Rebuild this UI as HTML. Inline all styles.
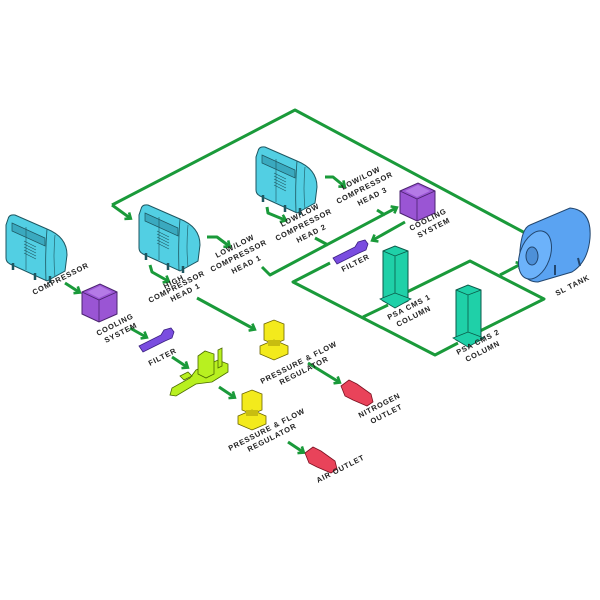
<!DOCTYPE html>
<html><head><meta charset="utf-8"><style>
html,body{margin:0;padding:0;background:#fff;width:600px;height:600px;overflow:hidden}
svg text{font-family:"Liberation Sans",sans-serif;font-weight:bold;font-size:7.5px;fill:#222;letter-spacing:0.8px}
</style></head><body>
<svg width="600" height="600" viewBox="0 0 600 600" xmlns="http://www.w3.org/2000/svg">
<defs>
<marker id="a" markerWidth="10" markerHeight="10" refX="5" refY="5" orient="auto" markerUnits="userSpaceOnUse"><path d="M1,1 L6,5 L1,9" fill="none" stroke="#1a9a3a" stroke-width="2.6"/></marker>
<g id="comp">
<path d="M3,6 Q4,1 10,2 L42,16 Q62,24 62,42 L60,58 L42,68 L5,51 Q1,49 1,45 L1,12 Z" fill="#52cfe3" stroke="#1d5660" stroke-width="1"/>
<path d="M42,16 Q40,40 41,68" fill="none" stroke="#1d5660" stroke-width="0.8"/>
<path d="M7,10 L40,25 L40,33 L7,18 Z" fill="#3aa9bf" stroke="#1d5660" stroke-width="0.7"/>
<path d="M19,28 L31,34 M19,31 L31,37 M19,34 L31,40 M19,37 L31,43 M19,40 L31,46 M21,14 L21,57 M50,22 Q48,44 50,64" stroke="#1d5660" stroke-width="0.6" fill="none"/>
<path d="M8,50 L8,57 M30,60 L30,67 M45,63 L45,70" stroke="#1d5660" stroke-width="2.5"/>
</g>
<g id="cool">
<path d="M0,8 L18,0 L35,8 L35,30 L17,38 L0,30 Z" fill="#9a55d4" stroke="#4b2370" stroke-width="1"/>
<path d="M0,8 L17,16 L35,8 M17,16 L17,38" fill="none" stroke="#4b2370" stroke-width="0.8"/>
<path d="M5,8 L18,2 L30,8 L17,14 Z" fill="#b47ae6"/>
</g>
<g id="filt">
<path d="M0,18 L22,7 L25,2 L32,0 L35,4 L33,10 L26,13 L4,24 Z" fill="#7a4de0" stroke="#3a2080" stroke-width="0.8"/>
</g>
<g id="reg">
<path d="M4,4 L14,0 L24,4 L24,20 L14,24 L4,20 Z" fill="#f3ea1c" stroke="#6b6400" stroke-width="0.8"/>
<path d="M0,26 L14,20 L28,26 L28,34 L14,40 L0,34 Z" fill="#f3ea1c" stroke="#6b6400" stroke-width="0.8"/>
<rect x="8" y="20" width="12" height="6" fill="#c8bd10"/>
</g>
<g id="out">
<path d="M0,6 L8,0 L16,4 L30,14 L32,22 L26,26 L12,20 L4,16 Z" fill="#e9435a" stroke="#7a1020" stroke-width="0.8"/>
</g>
<g id="col">
<path d="M0,5 L12,0 L25,5 L25,55 L12,61 L0,55 Z" fill="#1fd0a8" stroke="#0b5a48" stroke-width="1"/>
<path d="M0,5 L12,10 L25,5 M12,10 L12,61" fill="none" stroke="#0b5a48" stroke-width="0.8"/>
<path d="M-3,53 L12,47 L28,53 L12,62 Z" fill="#1fd0a8" stroke="#0b5a48" stroke-width="0.8"/>
</g>
</defs>

<g fill="none" stroke="#1a9a3a" stroke-width="3" stroke-linejoin="round">
<path d="M112,205 L295,110 L527,234"/>
<path d="M112,205 L130,218" marker-end="url(#a)"/>
<path d="M150,265 L152,272 L168,281" marker-end="url(#a)"/>
<path d="M207,237 L217,237 L229,246" marker-end="url(#a)"/>
<path d="M267,207 L268,213 L285,220" marker-end="url(#a)"/>
<path d="M325,177 L333,177 L344,186" marker-end="url(#a)"/>
<path d="M262,267 L270,275 L396,208" marker-end="url(#a)"/>
<path d="M315,238 L328,245"/>
<path d="M377,210 L385,215"/>
<path d="M405,222 L373,240" marker-end="url(#a)"/>
<path d="M330,263 L293,282 L435,355 L458,343"/>
<path d="M363,317 L388,305"/>
<path d="M405,293 L470,261 L544,299 L480,331"/>
<path d="M500,275 L521,264" marker-end="url(#a)"/>
<path d="M65,283 L79,292" marker-end="url(#a)"/>
<path d="M130,328 L146,337" marker-end="url(#a)"/>
<path d="M172,357 L187,367" marker-end="url(#a)"/>
<path d="M219,387 L234,397" marker-end="url(#a)"/>
<path d="M288,442 L303,452" marker-end="url(#a)"/>
<path d="M197,298 L254,329" marker-end="url(#a)"/>
<path d="M308,363 L339,382" marker-end="url(#a)"/>
</g>

<use href="#comp" x="5" y="213"/>
<use href="#comp" x="138" y="203"/>
<use href="#comp" x="255" y="145"/>
<use href="#cool" x="82" y="284"/>
<use href="#cool" x="400" y="183"/>
<use href="#filt" x="139" y="328"/>
<use href="#filt" x="333" y="240"/>
<use href="#col" x="383" y="246"/>
<use href="#col" x="456" y="285"/>
<use href="#reg" x="260" y="320"/>
<use href="#reg" x="238" y="390"/>
<use href="#out" x="341" y="380"/>
<use href="#out" x="305" y="447"/>

<g stroke="#4a6a00" stroke-width="0.8" fill="#b8f020">
<path d="M170,395 L172,388 L190,378 L196,370 L218,360 L228,364 L228,372 L212,382 L196,384 L176,396 Z"/>
<path d="M198,356 L205,351 L214,354 L214,374 L206,378 L198,374 Z"/>
<path d="M218,350 L222,348 L222,366 L218,368 Z"/>
<path d="M180,376 L188,372 L192,376 L184,380 Z"/>
</g>

<g stroke="#22466e" stroke-width="1">
<path d="M530,225 L570,208 Q592,210 590,238 Q588,262 572,272 L538,282 Q518,282 520,250 Q522,228 530,225 Z" fill="#5aa3f2"/>
<ellipse cx="535" cy="255" rx="15" ry="25" transform="rotate(20 535 255)" fill="#6cb2fa"/>
<ellipse cx="532" cy="256" rx="6" ry="9" fill="#4d90d8"/>
<path d="M555,265 L555,275 M578,258 L580,266" stroke-width="2"/>
</g>

<g>
<text transform="translate(34,295) rotate(-27)">COMPRESSOR</text>
<text transform="translate(98,336) rotate(-27)">COOLING</text>
<text transform="translate(106,343) rotate(-27)">SYSTEM</text>
<text transform="translate(150,366) rotate(-27)">FILTER</text>
<text transform="translate(165,289) rotate(-27)">HIGH</text>
<text transform="translate(150,303) rotate(-27)">COMPRESSOR</text>
<text transform="translate(172,302) rotate(-27)">HEAD 1</text>
<text transform="translate(217,258) rotate(-27)">LOW/LOW</text>
<text transform="translate(212,272) rotate(-27)">COMPRESSOR</text>
<text transform="translate(233,274) rotate(-27)">HEAD 1</text>
<text transform="translate(282,227) rotate(-27)">LOW/LOW</text>
<text transform="translate(277,241) rotate(-27)">COMPRESSOR</text>
<text transform="translate(298,243) rotate(-27)">HEAD 2</text>
<text transform="translate(343,190) rotate(-27)">LOW/LOW</text>
<text transform="translate(338,204) rotate(-27)">COMPRESSOR</text>
<text transform="translate(359,206) rotate(-27)">HEAD 3</text>
<text transform="translate(411,231) rotate(-27)">COOLING</text>
<text transform="translate(419,238) rotate(-27)">SYSTEM</text>
<text transform="translate(343,272) rotate(-27)">FILTER</text>
<text transform="translate(389,320) rotate(-27)">PSA CMS 1</text>
<text transform="translate(398,327) rotate(-27)">COLUMN</text>
<text transform="translate(458,355) rotate(-27)">PSA CMS 2</text>
<text transform="translate(467,362) rotate(-27)">COLUMN</text>
<text transform="translate(557,296) rotate(-27)">SL TANK</text>
<text transform="translate(262,384) rotate(-27)">PRESSURE &amp; FLOW</text>
<text transform="translate(281,385) rotate(-27)">REGULATOR</text>
<text transform="translate(360,418) rotate(-27)">NITROGEN</text>
<text transform="translate(372,424) rotate(-27)">OUTLET</text>
<text transform="translate(230,451) rotate(-27)">PRESSURE &amp; FLOW</text>
<text transform="translate(249,452) rotate(-27)">REGULATOR</text>
<text transform="translate(318,483) rotate(-27)">AIR OUTLET</text>
</g>
</svg>
</body></html>
